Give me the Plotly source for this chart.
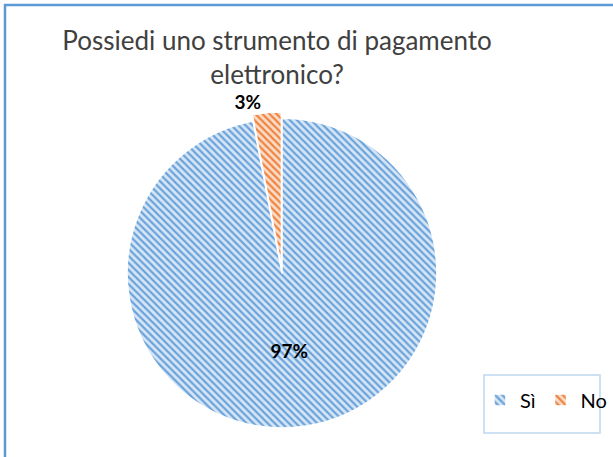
import plotly.graph_objects as go

labels = ["Sì", "No"]
values = [97, 3]
title_lines = ["Possiedi uno strumento di pagamento", "elettronico?"]

fig = go.Figure(go.Pie(
    labels=labels,
    values=values,
    sort=False,
    direction="clockwise",
    rotation=0,
    pull=[0, 0.04],
    texttemplate="%{percent:.0%}",
    textposition=["inside", "outside"],
    insidetextorientation="horizontal",
    textfont=dict(family="Lato", size=19, color="#000000", weight="bold"),
    marker=dict(
        colors=["#D6E6F6", "#FBDCC8"],
        line=dict(color="white", width=1.5),
        pattern=dict(shape="\\", fgcolor=["#6BA3DA", "#EE8440"],
                     bgcolor=["#D6E6F6", "#FBDCC8"], size=5, solidity=0.45,
                     fillmode="replace"),
    ),
    domain=dict(x=[0.197, 0.723], y=[0.050, 0.755]),
    hole=0,
    showlegend=True,
))

fig.update_layout(
    width=613, height=457,
    margin=dict(l=0, r=0, t=0, b=0),
    paper_bgcolor="white",
    title=dict(text="<br>".join(title_lines), x=0.452, xanchor="center",
               y=0.89, yanchor="top",
               font=dict(family="Lato", size=26, color="#404040")),
    font=dict(family="Lato"),
    legend=dict(orientation="h", x=0.783, xanchor="left", y=0.125, yanchor="middle",
                font=dict(size=20, color="#000000"), itemwidth=30,
                bgcolor="rgba(0,0,0,0)", traceorder="normal"),
    shapes=[
        dict(type="rect", xref="paper", yref="paper", x0=5/613, x1=1.05, y0=-0.05, y1=1-5/457,
             line=dict(color="#5B9BD5", width=2.5)),
        dict(type="rect", xref="paper", yref="paper", x0=484/613, x1=600/613,
             y0=1-433/457, y1=1-375/457, line=dict(color="#BDD7EE", width=1.5)),
    ],
)

fig.write_html("out.html")
